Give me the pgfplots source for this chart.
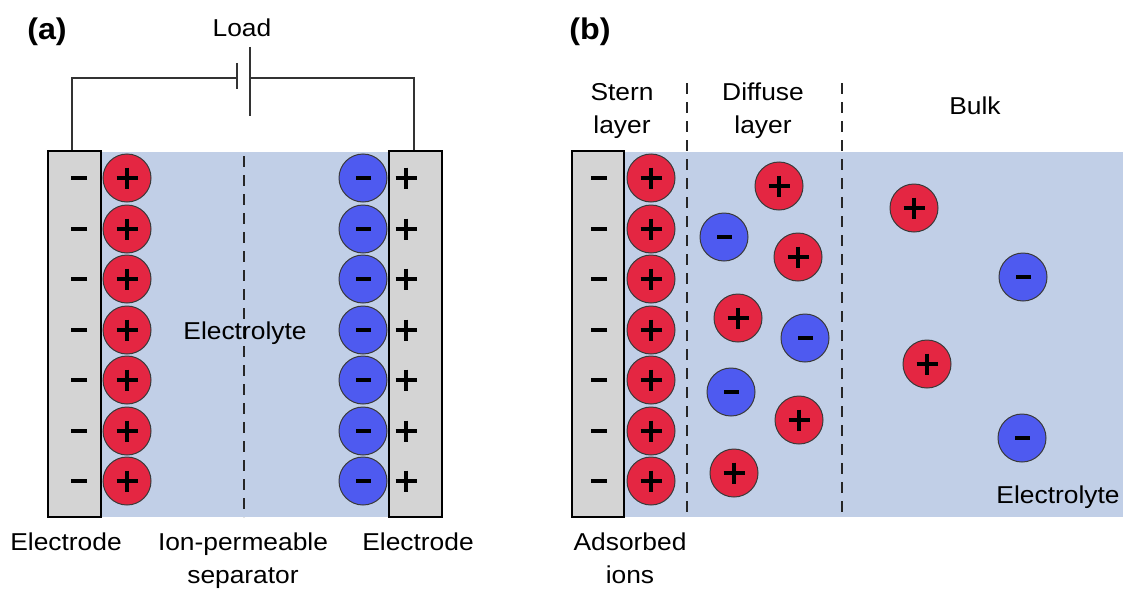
\documentclass[border=0pt]{standalone}
\usepackage{fontspec}
\setmainfont{Liberation Sans}[FakeStretch=1.08]
\usepackage{pgfplots}
\pgfplotsset{compat=1.18}
\definecolor{ionred}{HTML}{E42642}
\definecolor{ionblue}{HTML}{4E5AF0}
\definecolor{bgblue}{HTML}{C1CFE7}
\definecolor{elgray}{HTML}{D4D4D4}
\definecolor{ionedge}{HTML}{3A3A3A}
\definecolor{wire}{HTML}{333333}
\begin{document}
\begin{tikzpicture}
\begin{axis}[width=1123bp,height=588bp,scale only axis,
  xmin=0,xmax=1123,ymin=0,ymax=588,y dir=reverse,
  hide axis,clip=false]
% backgrounds
\addplot[fill=bgblue,draw=none] coordinates {(100,152) (390,152) (390,517) (100,517)} -- cycle;
\addplot[fill=bgblue,draw=none] coordinates {(623,152) (1123,152) (1123,517) (623,517)} -- cycle;
% electrodes
\addplot[fill=elgray,draw=black,line width=2bp] coordinates {(48,151) (101,151) (101,517) (48,517)} -- cycle;
\addplot[fill=elgray,draw=black,line width=2bp] coordinates {(389,151) (442,151) (442,517) (389,517)} -- cycle;
\addplot[fill=elgray,draw=black,line width=2bp] coordinates {(572,151) (624,151) (624,517) (572,517)} -- cycle;
% circuit
\addplot[draw=wire,line width=2bp] coordinates {(72,150) (72,78) (237,78)};
\addplot[draw=wire,line width=2bp] coordinates {(250,78) (414,78) (414,150)};
\addplot[draw=wire,line width=2bp] coordinates {(237,63) (237,89)};
\addplot[draw=wire,line width=2bp] coordinates {(250,47) (250,116)};
% dashed lines
\addplot[draw=black!85,line width=2bp,dash pattern=on 11bp off 8bp] coordinates {(244,156) (244,517)};
\addplot[draw=black!85,line width=2bp,dash pattern=on 11bp off 8bp] coordinates {(687,83) (687,517)};
\addplot[draw=black!85,line width=2bp,dash pattern=on 11bp off 8bp] coordinates {(842,83) (842,517)};
% red ions
\addplot[only marks,mark=*,mark size=24bp,mark options={fill=ionred,draw=ionedge,line width=1bp}] coordinates {
(127,178) (127,229) (127,279) (127,330) (127,380) (127,431) (127,481)
(651,178) (651,229) (651,279) (651,330) (651,380) (651,431) (651,481)
(779,186) (798,257) (738,318) (799,420) (734,473)
(914,208) (927,364)};
% blue ions
\addplot[only marks,mark=*,mark size=24bp,mark options={fill=ionblue,draw=ionedge,line width=1bp}] coordinates {
(363,178) (363,229) (363,279) (363,330) (363,380) (363,431) (363,481)
(724,237) (805,338) (731,392)
(1023,277) (1022,438)};
% plus signs on ions
\addplot[only marks,mark=+,mark size=10.5bp,mark options={draw=black,line width=4bp}] coordinates {
(127,178) (127,229) (127,279) (127,330) (127,380) (127,431) (127,481)
(651,178) (651,229) (651,279) (651,330) (651,380) (651,431) (651,481)
(779,186) (798,257) (738,318) (799,420) (734,473)
(914,208) (927,364)};
% minus signs on ions
\addplot[only marks,mark=-,mark size=7.5bp,mark options={draw=black,line width=4.5bp}] coordinates {
(363,178) (363,229) (363,279) (363,330) (363,380) (363,431) (363,481)
(724,237) (805,338) (731,392)
(1023,277) (1022,438)};
% electrode minus
\addplot[only marks,mark=-,mark size=8bp,mark options={draw=black,line width=4bp}] coordinates {
(79,178) (79,229) (79,279) (79,330) (79,380) (79,431) (79,481)
(599,178) (599,229) (599,279) (599,330) (599,380) (599,431) (599,481)};
% electrode plus
\addplot[only marks,mark=+,mark size=10.5bp,mark options={draw=black,line width=3.5bp}] coordinates {
(406,178) (406,229) (406,279) (406,330) (406,380) (406,431) (406,481)};
% texts
\tikzset{lab/.style={anchor=base,inner sep=0pt,font=\fontsize{24.5}{29}\selectfont}}
\node[anchor=base,inner sep=0pt,font=\fontsize{30}{34}\selectfont\bfseries] at (47,40) {(a)};
\node[anchor=base,inner sep=0pt,font=\fontsize{30}{34}\selectfont\bfseries] at (590,40) {(b)};
\node[lab] at (242,37) {Load};
\node[lab] at (245,339) {Electrolyte};
\node[lab] at (66,550) {Electrode};
\node[lab] at (243,550) {Ion-permeable};
\node[lab] at (243,583) {separator};
\node[lab] at (418,550) {Electrode};
\node[lab] at (622,100) {Stern};
\node[lab] at (622,133) {layer};
\node[lab] at (763,100) {Diffuse};
\node[lab] at (763,133) {layer};
\node[lab] at (975,114) {Bulk};
\node[lab] at (1058,503) {Electrolyte};
\node[lab] at (630,550) {Adsorbed};
\node[lab] at (630,583) {ions};
\end{axis}
\pgfresetboundingbox
\path[use as bounding box] (current axis.south west) rectangle (current axis.north east);
\end{tikzpicture}
\end{document}
